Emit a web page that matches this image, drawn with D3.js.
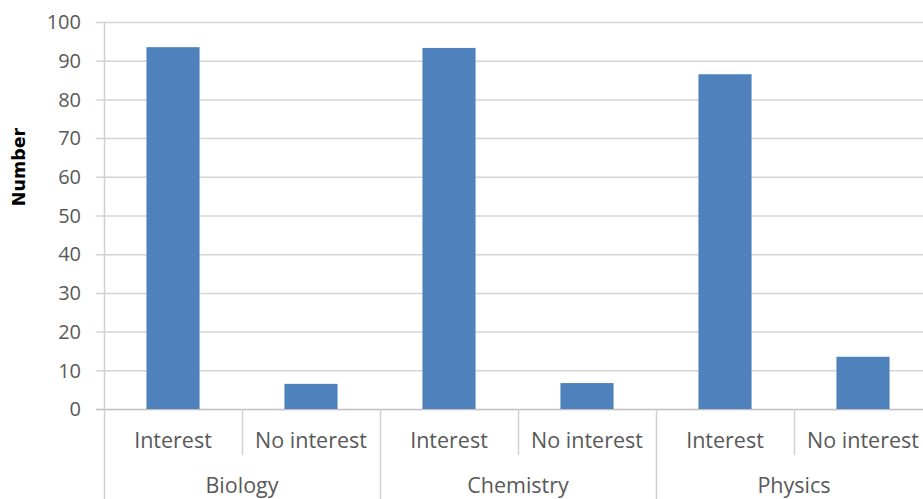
<!DOCTYPE html>
<html lang="en">
<head>
    <meta charset="UTF-8">
    <title>Interest by subject</title>
    <script src="https://d3js.org/d3.v7.min.js"></script>
    <style>
        body { margin: 0; background: white; }
        svg { display: block; }
        text { font-family: "Open Sans", sans-serif; fill: #595959; }
    </style>
</head>
<body>
    <svg id="chart" width="923" height="499"></svg>

    <script>
        const subjects = ["Biology", "Chemistry", "Physics"];
        const responses = ["Interest", "No interest"];
        const values = [
            [93.5, 6.5],
            [93.3, 6.7],
            [86.5, 13.5]
        ];
        const yTicks = [0, 10, 20, 30, 40, 50, 60, 70, 80, 90, 100];

        const svg = d3.select("#chart");
        const plotLeft = 104, plotRight = 932, plotTop = 22, plotBottom = 409;

        // flat list of bars, one per subject/response
        const bars = [];
        subjects.forEach((s, i) => {
            responses.forEach((r, j) => {
                bars.push({ key: s + "|" + r, subject: s, response: r, value: values[i][j] });
            });
        });

        const x = d3.scaleBand()
            .domain(bars.map(d => d.key))
            .range([plotLeft, plotRight])
            .paddingInner(0.615)
            .paddingOuter(0.3075);
        const step = x.step();

        const y = d3.scaleLinear().domain([0, 100]).range([plotBottom, plotTop]);

        // gridlines and y ticks
        svg.selectAll("line.grid")
            .data(yTicks)
            .enter()
            .append("line")
            .attr("x1", plotLeft - 8)
            .attr("x2", 923)
            .attr("y1", d => y(d) + 0.5)
            .attr("y2", d => y(d) + 0.5)
            .attr("stroke", d => d === 0 ? "#bfbfbf" : "#d4d4d4")
            .attr("stroke-width", 1.5);

        svg.selectAll("text.ytick")
            .data(yTicks)
            .enter()
            .append("text")
            .attr("x", 81)
            .attr("y", d => y(d))
            .attr("dy", "0.36em")
            .attr("text-anchor", "end")
            .style("font-size", "20px")
            .text(d => d);

        // y axis line
        svg.append("line")
            .attr("x1", plotLeft + 0.5).attr("x2", plotLeft + 0.5)
            .attr("y1", plotTop).attr("y2", 499)
            .attr("stroke", "#d0d0d0")
            .attr("stroke-width", 1.5);

        // bars
        svg.selectAll("rect.bar")
            .data(bars)
            .enter()
            .append("rect")
            .attr("x", d => x(d.key))
            .attr("y", d => y(d.value))
            .attr("width", x.bandwidth())
            .attr("height", d => plotBottom - y(d.value))
            .attr("fill", "#4f81bd");

        // category separators: long ones between subjects, short ones between responses
        const bounds = d3.range(1, bars.length + 1).map(i => ({ i: i, x: plotLeft + i * step }));
        svg.selectAll("line.sep")
            .data(bounds)
            .enter()
            .append("line")
            .attr("x1", d => d.x + 0.5)
            .attr("x2", d => d.x + 0.5)
            .attr("y1", plotBottom)
            .attr("y2", d => d.i % 2 === 0 ? 499 : 455)
            .attr("stroke", "#d0d0d0")
            .attr("stroke-width", 1.5);

        // response labels
        svg.selectAll("text.resp")
            .data(bars)
            .enter()
            .append("text")
            .attr("x", d => x(d.key) + x.bandwidth() / 2)
            .attr("y", 448)
            .attr("text-anchor", "middle")
            .style("font-size", "21.5px")
            .text(d => d.response);

        // subject labels
        svg.selectAll("text.subj")
            .data(subjects)
            .enter()
            .append("text")
            .attr("x", (d, i) => plotLeft + (i * 2 + 1) * step)
            .attr("y", 493)
            .attr("text-anchor", "middle")
            .style("font-size", "21.5px")
            .text(d => d);

        // y axis title
        svg.append("text")
            .attr("transform", "translate(25,167) rotate(-90)")
            .attr("text-anchor", "middle")
            .style("font-family", "'DejaVu Sans', sans-serif")
            .style("font-weight", "bold")
            .style("font-size", "17.5px")
            .style("fill", "#000")
            .text("Number");
    </script>
</body>
</html>
